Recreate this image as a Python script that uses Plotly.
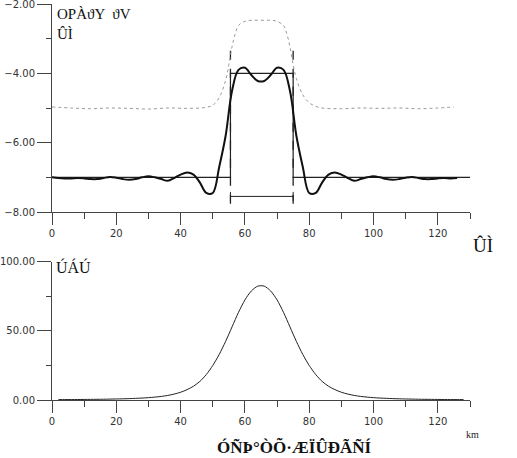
import plotly.graph_objects as go

# ---------------- data ----------------
x_thick = list(range(0, 130, 2))
y_thick = [-7.00, -7.02, -7.03, -7.03, -7.02, -7.03, -7.05, -7.05, -7.02, -6.99,
           -7.01, -7.05, -7.07, -7.05, -7.00, -6.97, -7.00, -7.05, -7.10, -7.02,
           -6.92, -6.86, -6.92, -7.15, -7.45, -7.45, -6.70, -5.80, -4.50, -3.90,
           -3.84, -4.05, -4.22,
           -4.22, -4.05, -3.84, -3.90, -4.50, -5.80, -6.70, -7.45, -7.45, -7.15,
           -6.92, -6.86, -6.92, -7.02, -7.10, -7.05, -7.00, -6.97, -7.00, -7.05,
           -7.07, -7.05, -7.01, -6.99, -7.02, -7.05, -7.05, -7.03, -7.02, -7.03,
           -7.02]

x_gray = [0, 6, 12, 18, 24, 30, 36, 42, 46, 48, 50, 52, 54, 55, 56, 57, 58, 60,
          62, 65, 68, 70, 72, 73, 74, 75, 76, 78, 80, 82, 84, 90, 96, 102, 108, 114, 120, 125]
y_gray = [-4.97, -5.00, -5.02, -5.00, -5.01, -5.03, -5.00, -5.01, -5.00, -4.98, -4.92, -4.70,
          -4.20, -3.75, -3.23, -2.85, -2.62, -2.50, -2.47, -2.47, -2.47, -2.50, -2.62, -2.85,
          -3.23, -3.75, -4.15, -4.62, -4.85, -4.95, -5.00, -5.02, -5.00, -5.01, -5.00, -5.02,
          -5.00, -4.97]

# box model
box_left, box_right = 55.5, 75.0
box_top, box_base = -4.0, -7.0
x_min, x_max = 0, 130
dash_top, dash_bottom = -3.35, -8.25
bar_y = -7.55
cap = 0.13

x_bell = list(range(2, 130, 2))
y_bell = [0.30, 0.30, 0.32, 0.35, 0.40, 0.45, 0.50, 0.55, 0.65, 0.75, 0.85, 1.0,
          1.2, 1.4, 1.7, 2.1, 2.6, 3.3, 4.3, 5.6, 7.5, 10.0, 13.5, 18.5, 25.0,
          33.0, 42.5, 53.0, 63.5, 72.5, 79.0, 82.5,
          82.5, 79.0, 72.5, 63.5, 53.0, 42.5, 33.0, 25.0, 18.5, 13.5, 10.0, 7.5,
          5.6, 4.3, 3.3, 2.6, 2.1, 1.7, 1.4, 1.2, 1.0, 0.85, 0.75, 0.65, 0.55,
          0.50, 0.45, 0.40, 0.35, 0.32, 0.30, 0.30]

top_ticks = [-2, -4, -6, -8]
bot_ticks = [0, 50, 100]
x_ticks = [0, 20, 40, 60, 80, 100, 120]

# ---------------- figure ----------------
fig = go.Figure()

fig.add_trace(go.Scatter(
    x=[x_min, box_left, box_left, box_right, box_right, x_max],
    y=[box_base, box_base, box_top, box_top, box_base, box_base],
    mode="lines", line=dict(color="#222", width=1.2), xaxis="x", yaxis="y", hoverinfo="skip"))

for xv in (box_left, box_right):
    fig.add_trace(go.Scatter(x=[xv, xv], y=[dash_top, dash_bottom], mode="lines",
                             line=dict(color="#222", width=1.3, dash="dash"),
                             xaxis="x", yaxis="y", cliponaxis=False, hoverinfo="skip"))

fig.add_trace(go.Scatter(
    x=[box_left, box_left, None, box_left, box_right, None, box_right, box_right],
    y=[bar_y - cap, bar_y + cap, None, bar_y, bar_y, None, bar_y - cap, bar_y + cap],
    mode="lines", line=dict(color="#222", width=1), xaxis="x", yaxis="y", hoverinfo="skip"))

fig.add_trace(go.Scatter(x=x_gray, y=y_gray, mode="lines",
                         line=dict(color="#9a9a9a", width=1, dash="dot", shape="spline"),
                         xaxis="x", yaxis="y"))
fig.add_trace(go.Scatter(x=x_thick, y=y_thick, mode="lines",
                         line=dict(color="#111", width=2, shape="spline", smoothing=1),
                         xaxis="x", yaxis="y"))
fig.add_trace(go.Scatter(x=x_bell, y=y_bell, mode="lines",
                         line=dict(color="#222", width=1, shape="spline", smoothing=0.8),
                         xaxis="x2", yaxis="y2"))

tickfont = dict(family="DejaVu Sans", size=10, color="#333")
axcommon = dict(showgrid=False, zeroline=False, showline=True, linecolor="#444",
                linewidth=1, ticks="outside", tickcolor="#444", tickwidth=1,
                tickfont=tickfont, automargin=False, ticklabeloverflow="allow")

fig.update_layout(
    width=517, height=458,
    margin=dict(l=52, r=47, t=4, b=58, autoexpand=False),
    paper_bgcolor="white", plot_bgcolor="white",
    showlegend=False,
    xaxis=dict(domain=[0, 1], range=[x_min, x_max], anchor="y", tickvals=x_ticks,
               ticklen=12, minor=dict(dtick=10, tick0=0, ticklen=6, ticks="outside",
                                      tickcolor="#444", showgrid=False),
               **axcommon),
    yaxis=dict(domain=[0.4747, 1], range=[-8, -2], anchor="x", tickvals=top_ticks,
               tickformat=".2f", ticklen=14,
               minor=dict(dtick=1, tick0=-8, ticklen=5, ticks="outside",
                          tickcolor="#444", showgrid=False),
               **axcommon),
    xaxis2=dict(domain=[0, 1], range=[x_min, x_max], anchor="y2", tickvals=x_ticks,
                ticklen=12, minor=dict(dtick=10, tick0=0, ticklen=6, ticks="outside",
                                       tickcolor="#444", showgrid=False),
                **axcommon),
    yaxis2=dict(domain=[0, 0.3485], range=[0, 100], anchor="x2", tickvals=bot_ticks,
                tickformat=".2f", ticklen=14,
                minor=dict(dtick=25, tick0=0, ticklen=5, ticks="outside",
                           tickcolor="#444", showgrid=False),
                **axcommon),
)

serif = "Liberation Serif"
ann = [
    dict(text="ΟΡÀϑΥ  ϑV<br>ÛÌ", x=0.008, y=1.0, font=dict(family=serif, size=15, color="#111"),
         xanchor="left", yanchor="top", align="left"),
    dict(text="ÛÌ", x=1.031, y=0.391, font=dict(family=serif, size=19, color="#111"),
         xanchor="center", yanchor="middle"),
    dict(text="ÚÁÚ", x=0.005, y=0.336, font=dict(family=serif, size=16, color="#111"),
         xanchor="left", yanchor="middle"),
    dict(text="km", x=1.005, y=-0.086, font=dict(family=serif, size=10, color="#222"),
         xanchor="center", yanchor="middle"),
    dict(text="<b>ÓÑÞ°ÒÕ·ÆÏÛÐÃÑÍ</b>", x=0.58, y=-0.118,
         font=dict(family=serif, size=17, color="#111"), xanchor="center", yanchor="middle"),
]
for a in ann:
    a.update(xref="paper", yref="paper", showarrow=False)
fig.update_layout(annotations=ann)

fig.write_html("out.html")
